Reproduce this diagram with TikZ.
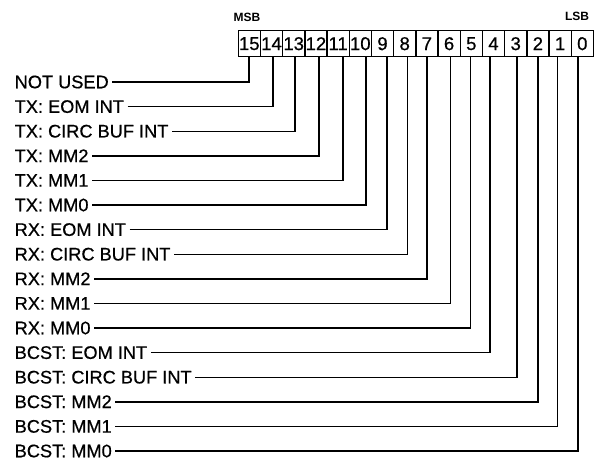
\documentclass[tikz,border=0pt]{standalone}
\usepackage{fontspec}
\setmainfont{Liberation Sans}
\newfontfamily\semibold[FakeBold=0.6]{Liberation Sans}
\begin{document}
\begin{tikzpicture}[x=1pt,y=-1pt,line width=1.4pt,
  cell/.style={draw, minimum width=22.2pt, minimum height=26pt, inner sep=0pt,
    font=\semibold\fontsize{18.5}{18}\selectfont, anchor=north west},
  lbl/.style={anchor=west, inner sep=0pt, font=\semibold\fontsize{18.2}{18}\selectfont},
  tag/.style={inner sep=0pt, font=\bfseries\fontsize{12}{12}\selectfont},
  lead/.style={line width=1.4pt}]
\useasboundingbox (0,0) rectangle (602,461);
\foreach \b [count=\k from 0] in {15,14,...,0}
  \node[cell] (c\b) at ({237.5+22.2*\k},30) {\b};
\node[tag] (msb) at (247,17.5) {MSB};
\node[tag] (lsb) at (577,16) {LSB};
\foreach \b/\t/\px [count=\i from 0] in {
  15/NOT USED/249, 14/TX: EOM INT/273, 13/TX: CIRC BUF INT/295,
  12/TX: MM2/319, 11/TX: MM1/343, 10/TX: MM0/366,
  9/RX: EOM INT/387, 8/RX: CIRC BUF INT/407.7, 7/RX: MM2/427,
  6/RX: MM1/450.7, 5/RX: MM0/470.7, 4/BCST: EOM INT/490,
  3/BCST: CIRC BUF INT/517, 2/BCST: MM2/538, 1/BCST: MM1/557.7,
  0/BCST: MM0/578}{
  \node[lbl] (l\b) at (14,{82+24.6*\i}) {\t};
  \coordinate (p\b) at (\px,56);
  \draw[lead] ([xshift=3pt]l\b.east) -| (p\b);
}
\end{tikzpicture}
\end{document}
